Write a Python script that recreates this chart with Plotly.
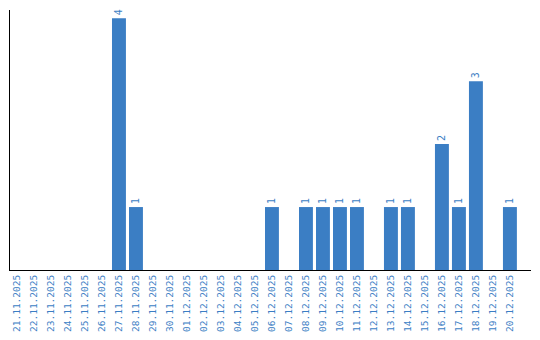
import plotly.graph_objects as go

dates = ["21.11.2025", "22.11.2025", "23.11.2025", "24.11.2025", "25.11.2025",
         "26.11.2025", "27.11.2025", "28.11.2025", "29.11.2025", "30.11.2025",
         "01.12.2025", "02.12.2025", "03.12.2025", "04.12.2025", "05.12.2025",
         "06.12.2025", "07.12.2025", "08.12.2025", "09.12.2025", "10.12.2025",
         "11.12.2025", "12.12.2025", "13.12.2025", "14.12.2025", "15.12.2025",
         "16.12.2025", "17.12.2025", "18.12.2025", "19.12.2025", "20.12.2025"]
counts = [0, 0, 0, 0, 0, 0, 4, 1, 0, 0,
          0, 0, 0, 0, 0, 1, 0, 1, 1, 1,
          1, 0, 1, 1, 0, 2, 1, 3, 0, 1]

labels = [str(v) if v else "" for v in counts]

BLUE = "#3b7ec4"
FONT = "DejaVu Sans Mono"

fig = go.Figure(go.Bar(
    x=dates, y=counts, text=labels,
    marker=dict(color=BLUE, line=dict(width=0)),
    width=0.82,
    textposition="outside", textangle=-90,
    textfont=dict(family=FONT, size=10, color=BLUE),
    cliponaxis=False,
))

fig.update_layout(
    width=540, height=340,
    margin=dict(l=10, r=9, t=10, b=70),
    paper_bgcolor="white", plot_bgcolor="white",
    showlegend=False,
    xaxis=dict(type="category", range=[-0.41, 30.24], showgrid=False,
               showline=True, linecolor="black", linewidth=1, ticks="",
               tickangle=-90, tickfont=dict(family=FONT, size=9.5, color=BLUE),
               zeroline=False, automargin=False),
    yaxis=dict(range=[0, 4.13], showgrid=False, showline=True, linecolor="black",
               linewidth=1, showticklabels=False, ticks="", zeroline=False,
               automargin=False),
)

fig.write_html("out.html")
